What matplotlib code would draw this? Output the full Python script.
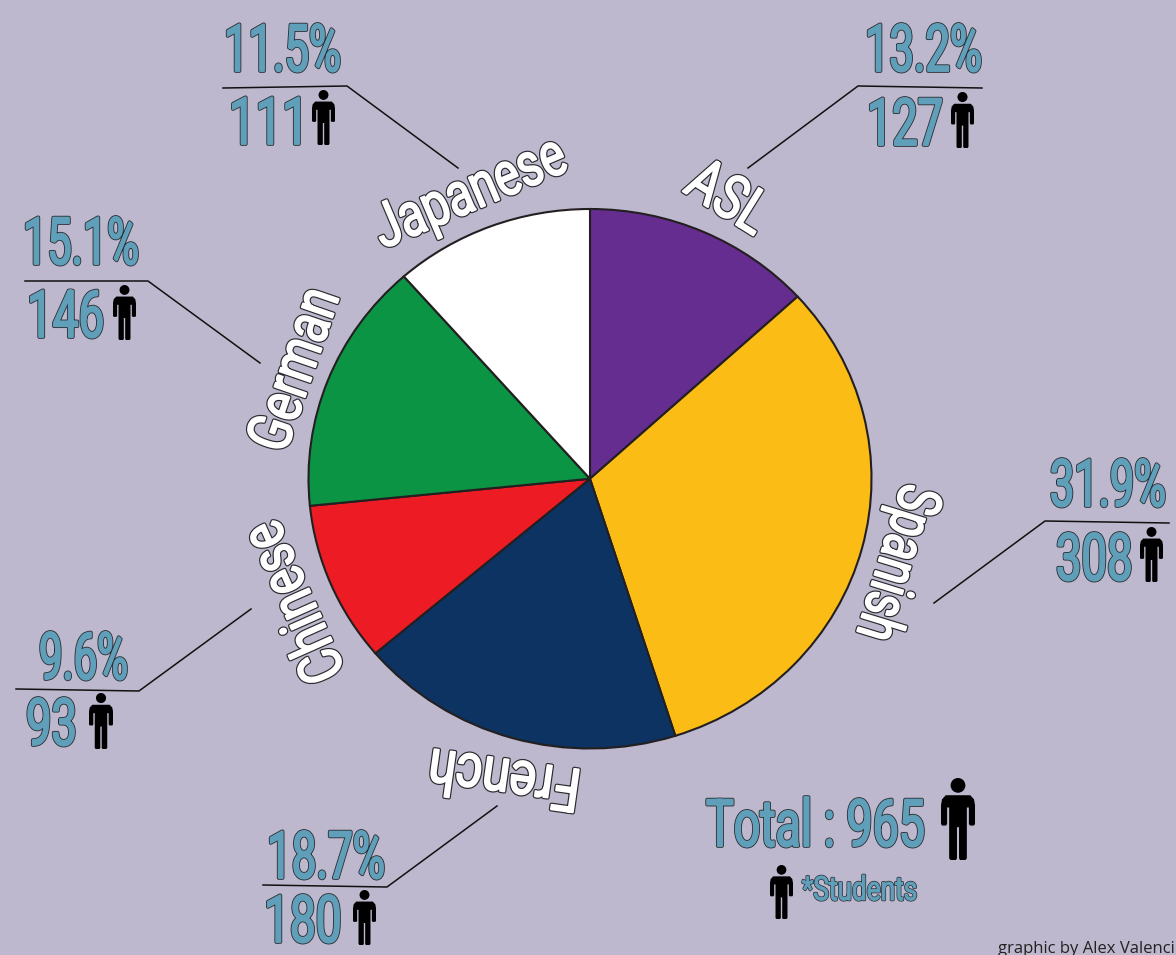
import matplotlib
matplotlib.use('Agg')
import matplotlib.pyplot as plt
from matplotlib.font_manager import FontProperties
from matplotlib.patches import Circle, PathPatch
from matplotlib.path import Path
from matplotlib.patheffects import AbstractPathEffect
from matplotlib.text import TextPath
from matplotlib.transforms import Affine2D

languages = ['ASL', 'Spanish', 'French', 'Chinese', 'German', 'Japanese']
percents = [13.2, 31.9, 18.7, 9.6, 15.1, 11.5]
students = [127, 308, 180, 93, 146, 111]
total = 965
slice_colors = ['#652d90', '#fbbc15', '#0c3362', '#ed1c24', '#0b9444', '#ffffff']

BG = '#bdb8cd'
BLUE = '#5f9fba'
DARK = '#2b2b2f'
W, H = 1176, 955
FONT = ['Roboto', 'Liberation Sans']


class Squeeze(AbstractPathEffect):
    # narrows the glyphs along the baseline (source font is DIN condensed),
    # then fattens them with a stroke in the fill colour over a dark one
    def __init__(self, sx, fat, outline, fill, from_right=False):
        super().__init__()
        self.sx, self.fat, self.outline, self.fill, self.from_right = sx, fat, outline, fill, from_right

    def draw_path(self, renderer, gc, tpath, affine, rgbFace=None):
        pivot = tpath.get_extents().x1 if self.from_right else 0
        squeeze = Affine2D().translate(-pivot, 0).scale(self.sx, 1).translate(pivot, 0)
        for lw, edge in [(self.fat + self.outline, DARK), (self.fat, self.fill)]:
            gc0 = renderer.new_gc()
            gc0.copy_properties(gc)
            gc0.set_linewidth(lw)
            gc0.set_foreground(edge)
            gc0.set_joinstyle('round')
            renderer.draw_path(gc0, tpath, squeeze + affine, rgbFace)
            gc0.restore()


def din_text(ax, x, y, s, width, size, color=BLUE, fat=1.4, outline=1.2, rot=0, from_right=False):
    fp = FontProperties(family=FONT)
    natural = TextPath((0, 0), s, size=size, prop=fp).get_extents().x1 * 100 / 72
    t = ax.text(x + width if from_right else x, y, s, fontproperties=fp, fontsize=size, color=color,
                rotation=rot, rotation_mode='anchor', ha='right' if from_right else 'left', va='baseline')
    t.set_path_effects([Squeeze(width / natural, fat, outline, color, from_right)])
    return t


def person(ax, x0, x1, y0, y1):
    w, h = x1 - x0, y1 - y0
    ax.add_patch(Circle((x0 + w / 2, y0 + 0.09 * h), 0.09 * h, fc='black', ec='none'))
    shape = [(0.14, 0.21), (0.86, 0.21), (0.97, 0.26), (1.0, 0.33), (1.0, 0.56), (0.97, 0.58), (0.85, 0.58),
             (0.82, 0.56), (0.82, 0.36), (0.76, 0.36), (0.76, 0.98), (0.72, 1.0), (0.56, 1.0), (0.53, 0.98),
             (0.53, 0.60), (0.47, 0.60), (0.47, 0.98), (0.44, 1.0), (0.28, 1.0), (0.24, 0.98), (0.24, 0.36),
             (0.18, 0.36), (0.18, 0.56), (0.15, 0.58), (0.03, 0.58), (0.0, 0.56), (0.0, 0.33), (0.03, 0.26),
             (0.14, 0.21)]
    verts = [(x0 + px * w, y0 + py * h) for px, py in shape]
    codes = [Path.MOVETO] + [Path.LINETO] * (len(verts) - 2) + [Path.CLOSEPOLY]
    ax.add_patch(PathPatch(Path(verts, codes), fc='black', ec='none'))


fig = plt.figure(figsize=(W / 100, H / 100), dpi=100, facecolor=BG)

# pie is a little wider than tall in the reference
pie_ax = fig.add_axes([(590 - 281.5) / W, (H - 748.5) / H, 563 / W, 539.5 / H])
pie_ax.pie(percents, colors=slice_colors, startangle=90, counterclock=False,
           wedgeprops={'edgecolor': '#231f20', 'linewidth': 1.5, 'clip_on': False})
pie_ax.set_aspect('auto')
pie_ax.set_xlim(-1, 1)
pie_ax.set_ylim(-1, 1)

ax = fig.add_axes([0, 0, 1, 1])
ax.set_xlim(0, W)
ax.set_ylim(H, 0)
ax.axis('off')

# language: x, y, width, rotation of the rotated white label
name_layout = {
    'ASL': (682, 191, 84, -32),
    'Spanish': (903, 481, 157, -107),
    'French': (583, 770, 150, 172),
    'Chinese': (346, 672, 168, 114),
    'German': (285, 455, 165, 71),
    'Japanese': (383, 249, 202, 23),
}
# pct x, pct width, pct baseline, count x, count width, count baseline
value_layout = {
    'ASL': (865, 115, 71, 867, 74, 145),
    'Spanish': (1053, 114, 506, 1056, 74, 580),
    'French': (267, 116, 878, 264, 75, 942),
    'Chinese': (39, 87, 679, 26, 48, 745),
    'German': (23, 114, 264, 27, 75, 337),
    'Japanese': (224, 115, 71, 229, 70, 144),
}
leader_lines = {
    'ASL': [(748, 168), (858, 86), (982, 88)],
    'Spanish': [(934, 603), (1045, 521), (1169, 523)],
    'French': [(497, 806), (387, 887), (263, 885)],
    'Chinese': [(251, 609), (139, 691), (16, 689)],
    'German': [(260, 363), (148, 281), (25, 281)],
    'Japanese': [(458, 168), (347, 86), (223, 88)],
}
person_boxes = {
    'ASL': (951, 974, 92, 148),
    'Spanish': (1140, 1163, 527, 582),
    'French': (353, 376, 890, 945),
    'Chinese': (89, 113, 693, 749),
    'German': (113, 136, 285, 340),
    'Japanese': (312, 335, 90, 145),
}

for lang, pct, n in zip(languages, percents, students):
    x, y, width, rot = name_layout[lang]
    din_text(ax, x, y, lang, width, 44, color='white', fat=1.3, outline=1.7, rot=rot)

    px, pw, py, cx, cw, cy = value_layout[lang]
    din_text(ax, px, py, f'{pct}%', pw, 47, from_right=lang == 'Spanish')
    din_text(ax, cx, cy, str(n), cw, 47)

    xs, ys = zip(*leader_lines[lang])
    ax.plot(xs, ys, color='#111111', lw=1.1)
    person(ax, *person_boxes[lang])

din_text(ax, 706, 846, f'Total : {total}', 217, 47)
person(ax, 941, 975, 778, 860)
person(ax, 770, 793, 865, 919)
din_text(ax, 802, 900, '*Students', 114, 24, fat=0.8, outline=1.0)

ax.text(998, 953, 'graphic by Alex Valenci', fontsize=12, family='Open Sans', color='#222222',
        ha='left', va='baseline')

fig.savefig('out.png', dpi=100, facecolor=BG)
